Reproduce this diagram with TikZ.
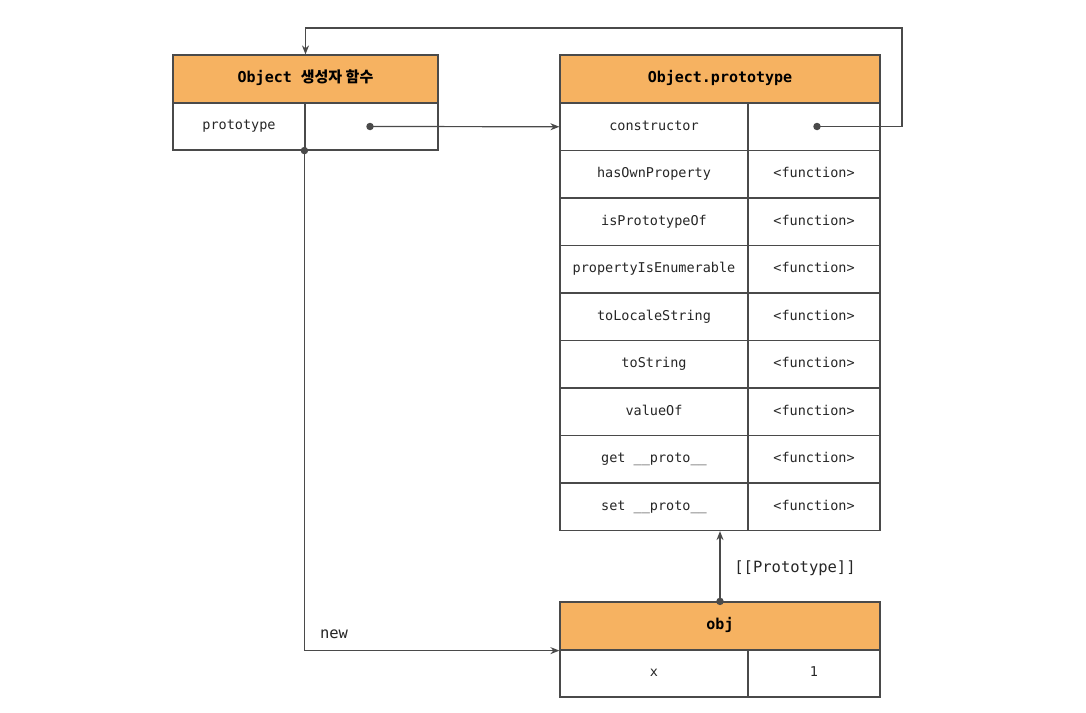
\documentclass[tikz,border=0pt]{standalone}
\usepackage{fontspec}
\setmonofont{DejaVu Sans Mono}
\newfontfamily\kr{Noto Sans CJK KR}
\usetikzlibrary{arrows.meta,calc}
\definecolor{hdr}{HTML}{F6B261}
\definecolor{ln}{HTML}{4A4A4A}
\begin{document}
\begin{tikzpicture}[x=1pt,y=-1pt,
  cell/.style={draw=ln,line width=1.2pt,rectangle,inner sep=0pt,text height=9.5pt,text depth=3pt,font=\ttfamily\fontsize{13.5}{15}\selectfont,text=black!85},
  head/.style={cell,fill=hdr,text height=10.5pt,text depth=3pt,font=\ttfamily\bfseries\fontsize{15}{17}\selectfont,text=black},
  dotn/.style={circle,fill=ln,inner sep=0pt,minimum size=7.5pt},
  arr/.style={draw=ln,line width=1.2pt,-{Stealth[length=9pt,width=7pt]}},
  lbl/.style={font=\ttfamily\fontsize{15.5}{18}\selectfont,text=black!85}]
\useasboundingbox (0,0) rectangle (1086,712);
% left box
\node[head,minimum width=265pt,minimum height=48pt] (lhead) at (305.5,79) {Object {\kr\bfseries 생성자 함수}};
\node[cell,minimum width=132pt,minimum height=47pt] (lkey) at (239,126.5) {prototype};
\node[cell,minimum width=133pt,minimum height=47pt] (lval) at (371.5,126.5) {};
% right box
\node[head,minimum width=320pt,minimum height=48pt] (phead) at (720,79) {Object.prototype};
\foreach \i/\k/\v in {0/constructor/,1/hasOwnProperty/<function>,2/isPrototypeOf/<function>,3/propertyIsEnumerable/<function>,4/toLocaleString/<function>,5/toString/<function>,6/valueOf/<function>,7/get \_\_proto\_\_/<function>,8/set \_\_proto\_\_/<function>}{
  \node[cell,minimum width=188pt,minimum height=47.5pt] (k\i) at (654,{126.75+47.5*\i}) {\k};
  \node[cell,minimum width=132pt,minimum height=47.5pt] (v\i) at (814,{126.75+47.5*\i}) {\v};
}
% obj box
\node[head,minimum width=320pt,minimum height=48pt] (ohead) at (720,626) {obj};
\node[cell,minimum width=188pt,minimum height=47pt] (okey) at (654,673.5) {x};
\node[cell,minimum width=132pt,minimum height=47pt] (oval) at (814,673.5) {1};
% dots
\node[dotn] (pdot) at (370,126.5) {};
\node[dotn] (cdot) at (817,126.5) {};
\node[dotn] (bdot) at (lval.south west) {};
\node[dotn] (odot) at (ohead.north) {};
\coordinate (ctop) at (902,28);
% connectors
\draw[arr] (pdot.center) -- (k0.west);
\draw[arr] (cdot.center) -| (ctop) -| (lhead.north);
\draw[arr] (bdot.center) |- (ohead.south west);
\draw[arr] (odot.center) -- (odot.center |- k8.south);
% labels
\node[lbl] (newl) at (334,634) {new};
\node[lbl] (protol) at (795,568) {[[Prototype]]};
\end{tikzpicture}
\end{document}
